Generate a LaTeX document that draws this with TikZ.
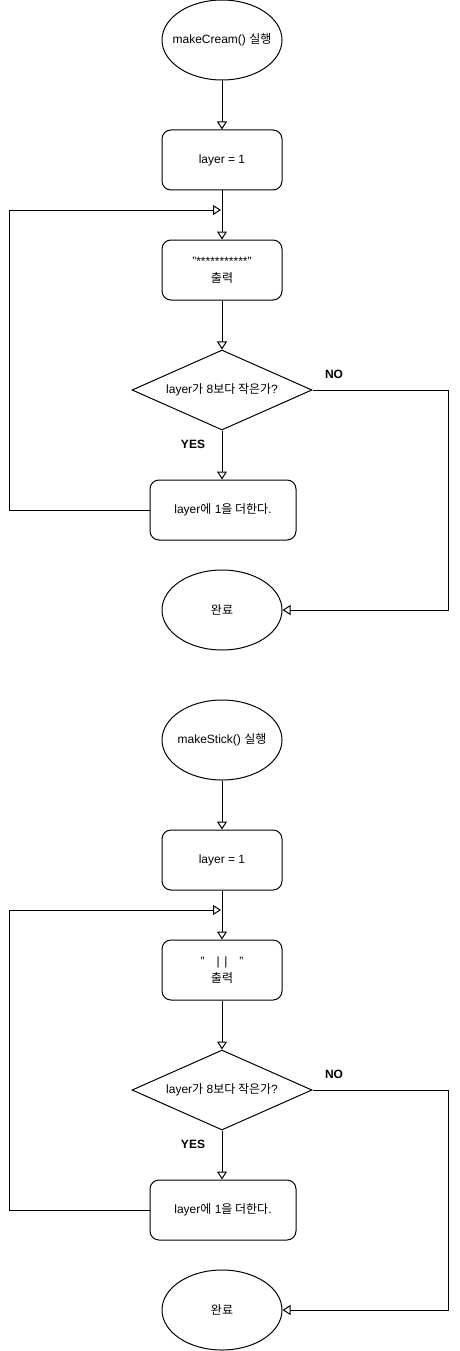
\documentclass[tikz,border=0pt]{standalone}
\usepackage{fontspec}
\setmainfont{Liberation Sans}
\newfontfamily\kr{Noto Sans CJK KR}
\usetikzlibrary{shapes.geometric,arrows.meta}
\tikzset{
  every node/.style={font=\fontsize{12}{17}\selectfont, text=black},
  oval/.style={ellipse, draw, line width=1pt, minimum width=120pt, minimum height=80pt, inner sep=0pt},
  procbox/.style={rectangle, draw, line width=1pt, rounded corners=9pt, minimum width=120pt, minimum height=60pt, inner sep=0pt, align=center},
  addbox/.style={procbox, minimum width=146pt},
  decide/.style={diamond, draw, line width=1pt, minimum width=180pt, minimum height=80pt, aspect=2.25, inner sep=0pt},
  arr/.style={line width=1pt, -{Triangle[open, length=8pt, width=10pt, line width=1pt]}},
  lbl/.style={font=\fontsize{12}{14}\selectfont\bfseries}
}
\begin{document}
\begin{tikzpicture}[x=1pt,y=-1pt]
\useasboundingbox (0,0) rectangle (460,1351);
\foreach \off/\fname/\ptext [count=\i] in {0/makeCream()/{"***********"},700/makeStick()/{"\hspace{12pt}|\hspace{4.5pt}|\hspace{12pt}"}} {
  \node[oval] (start\i) at (222,40+\off) {\makebox[0pt]{\fname{} {\kr 실행}}};
  \node[procbox] (init\i) at (222,160+\off) {layer = 1};
  \node[procbox] (print\i) at (222,270+\off) {\ptext\\{\kr 출력}};
  \node[decide] (cond\i) at (222,390+\off) {layer{\kr 가} 8{\kr 보다 작은가}?};
  \node[addbox] (add\i) at (223,510+\off) {layer{\kr 에} 1{\kr 을 더한다}.};
  \node[oval] (end\i) at (222,610+\off) {{\kr 완료}};
  \coordinate (loop\i) at (221,210+\off);
  \node[lbl] (no\i) at (334,374+\off) {NO};
  \node[lbl] (yes\i) at (193,444+\off) {YES};
  \draw[arr] (start\i) -- (init\i);
  \draw[arr] (init\i) -- (print\i);
  \draw[arr] (print\i) -- (cond\i);
  \draw[arr] (cond\i.south) -- (cond\i.south |- add\i.north);
  \draw[arr] (add\i.west) -- ++(-140,0) |- (loop\i);
  \draw[arr] (cond\i.east) -- ++(136,0) |- (end\i.east);
}
\end{tikzpicture}
\end{document}
